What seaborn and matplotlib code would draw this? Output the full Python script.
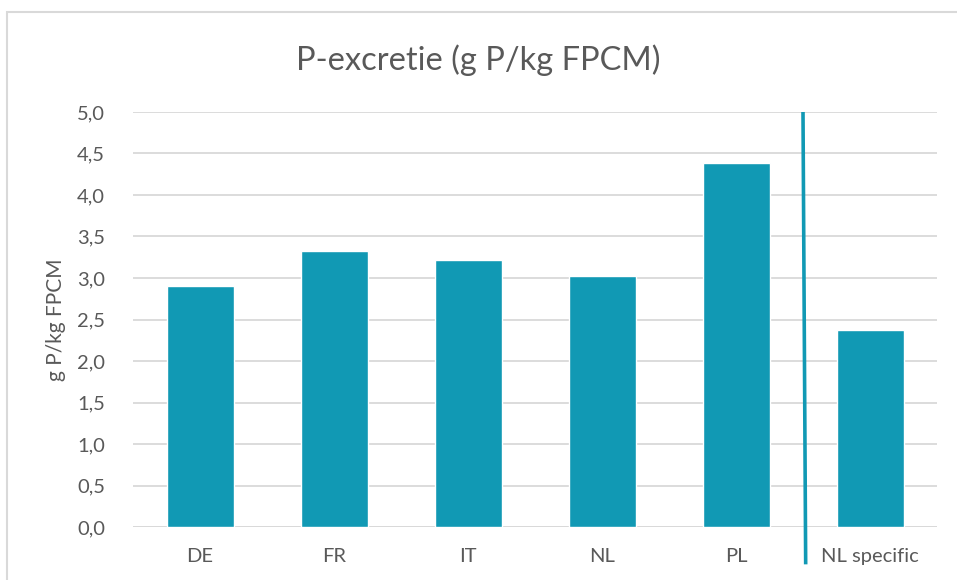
import matplotlib
matplotlib.use("Agg")
import matplotlib.pyplot as plt
import seaborn as sns
import pandas as pd
from matplotlib.patches import Rectangle
from matplotlib.lines import Line2D

sns.set_theme(style="white")
plt.rcParams['font.family'] = ['Lato', 'DejaVu Sans']

categories = ["DE", "FR", "IT", "NL", "PL", "NL specific"]
values = [2.90, 3.33, 3.22, 3.02, 4.38, 2.37]
yticks = [0.0, 0.5, 1.0, 1.5, 2.0, 2.5, 3.0, 3.5, 4.0, 4.5, 5.0]

BAR = "#1199B4"
TXT = "#595959"
GRID = "#D9D9D9"

df = pd.DataFrame({"land": categories, "waarde": values})

fig = plt.figure(figsize=(9.57, 5.8), dpi=100)
ax = fig.add_axes([133 / 957, 1 - 527 / 580, 804 / 957, 415 / 580])

sns.barplot(data=df, x="land", y="waarde", color=BAR, width=0.5,
            saturation=1, ax=ax, zorder=3)

ax.set_ylim(0, 5.0)
ax.set_yticks(yticks)
ax.set_yticklabels([f"{t:.1f}".replace(".", ",") for t in yticks])
ax.yaxis.grid(True, color=GRID, lw=1.3, zorder=0)
ax.set_axisbelow(True)
for s in ax.spines.values():
    s.set_visible(False)
ax.axhline(0, color=GRID, lw=1.3, zorder=1)
ax.tick_params(axis="y", length=0, pad=20, labelsize=14.5, labelcolor=TXT)
ax.tick_params(axis="x", length=0, pad=15, labelsize=14.5, labelcolor=TXT)
ax.set_xlabel("")
ax.set_ylabel("g P/kg FPCM", fontsize=15, color=TXT, labelpad=8)

# separator line between PL and NL specific
ax.add_line(Line2D([4.5, 4.52], [5.0, -0.45], color=BAR, lw=2.6,
                   solid_capstyle="butt", clip_on=False, zorder=4))

fig.text(0.5, 1 - 60 / 580, "P-excretie (g P/kg FPCM)", ha="center",
         va="center", fontsize=23.5, color=TXT)

# chart border
fig.patches.append(Rectangle((7 / 957, -0.1), 1.2, 1 - 12 / 580 + 0.1,
                             transform=fig.transFigure, fill=False,
                             edgecolor=GRID, lw=1.5))

fig.savefig("out.png", dpi=100)
